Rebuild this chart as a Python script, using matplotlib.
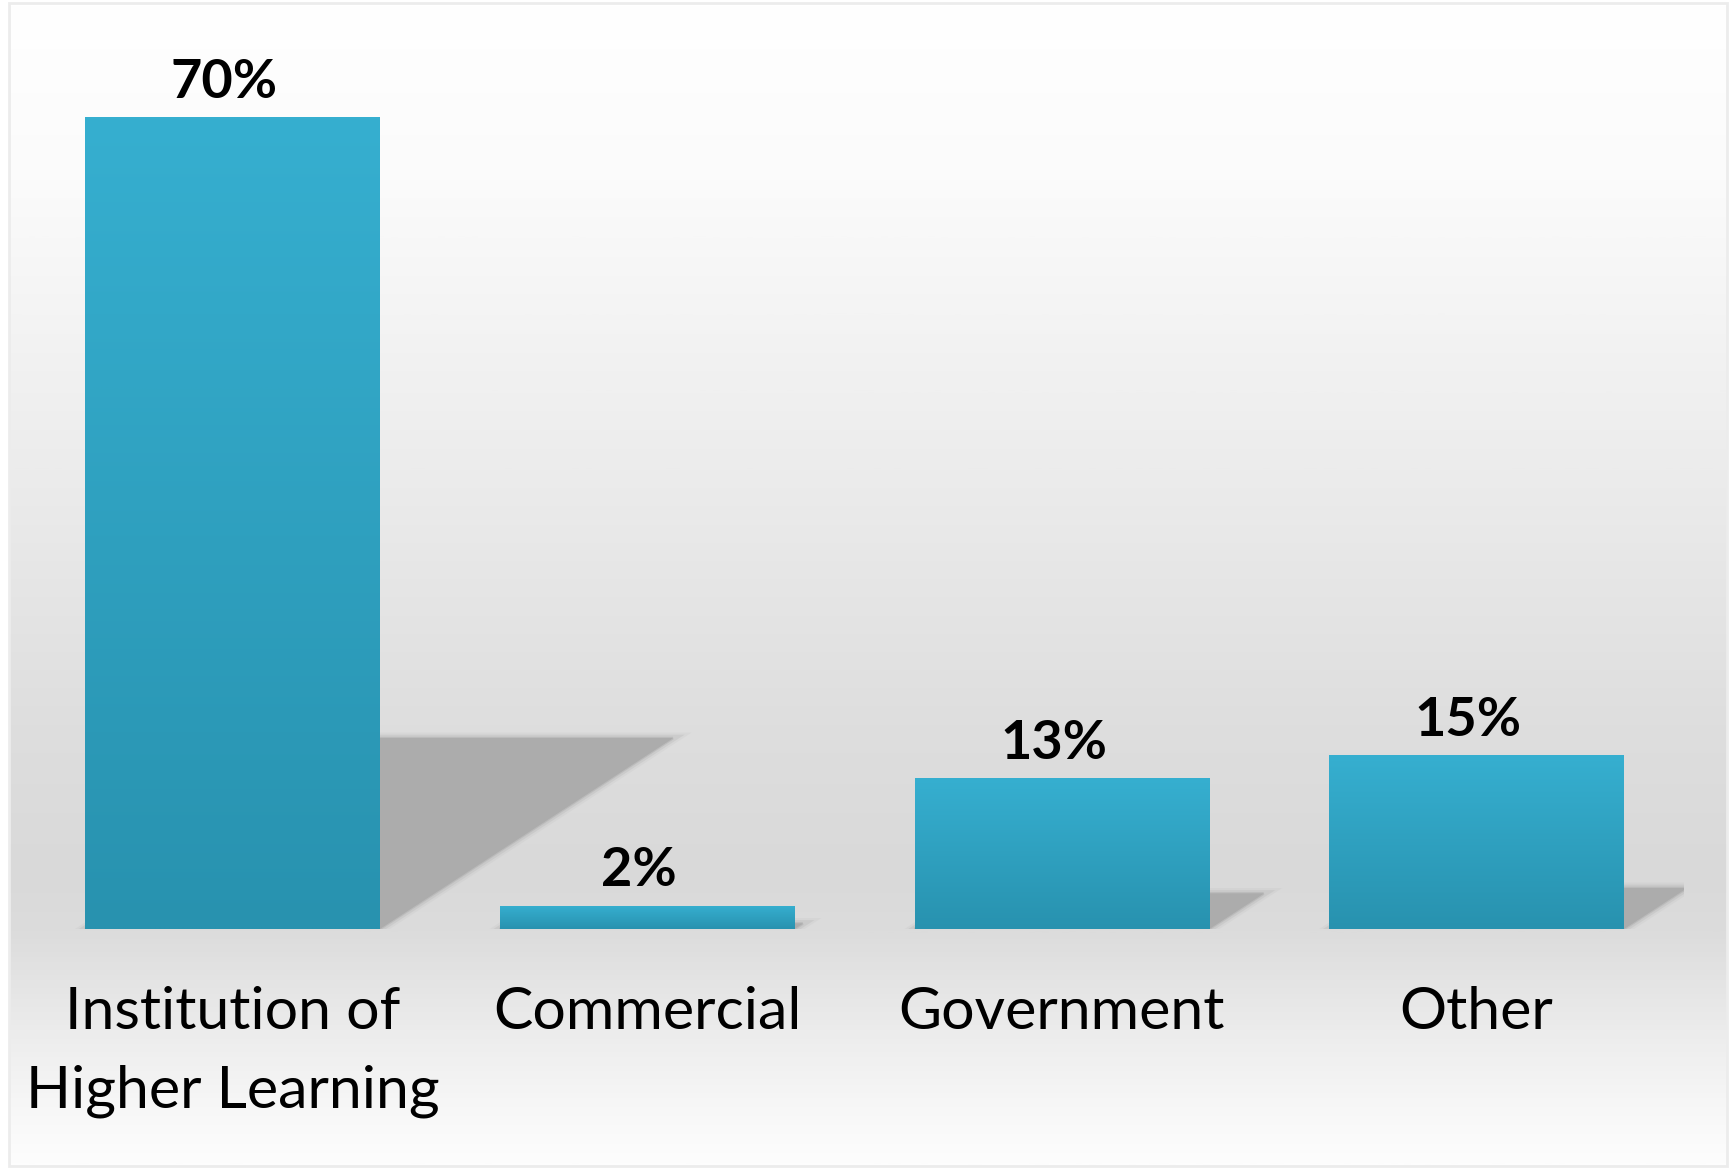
import numpy as np
import matplotlib
matplotlib.use('Agg')
import matplotlib.pyplot as plt
from matplotlib.colors import LinearSegmentedColormap
from matplotlib.patches import Polygon, Rectangle
import matplotlib.patheffects as pe

# Dados do gráfico
categories = ['Institution of\nHigher Learning', 'Commercial', 'Government', 'Other']
values = [70, 2, 13, 15]
value_labels = ['70%', '2%', '13%', '15%']

plt.rcParams['font.family'] = ['Lato', 'DejaVu Sans']

W, H = 1732, 1169
fig = plt.figure(figsize=(W / 100, H / 100), dpi=100)
fig.patch.set_facecolor('white')

# fundo com gradiente vertical
bg = fig.add_axes([9 / W, 3 / H, 1718 / W, 1163 / H], zorder=-5)
stops = [(0.0, '#ffffff'), (0.15, '#fbfbfb'), (0.40, '#ececec'), (0.62, '#dedede'),
         (0.75, '#d9d9d9'), (0.80, '#dcdcdc'), (0.88, '#ebebeb'), (0.95, '#f7f7f7'),
         (1.0, '#fdfdfd')]
bg_cmap = LinearSegmentedColormap.from_list('bg', stops)
grad = np.linspace(0, 1, 512).reshape(-1, 1)
bg.imshow(grad, cmap=bg_cmap, aspect='auto', extent=(0, 1, 1, 0))
bg.set_xlim(0, 1)
bg.set_ylim(1, 0)
bg.axis('off')
fig.patches.append(Rectangle((9 / W, 3 / H), 1718 / W, 1163 / H, transform=fig.transFigure,
                             fill=False, edgecolor='#ececec', lw=2))

ax = fig.add_axes([25 / W, (H - 929) / H, 1659 / W, 928 / H])
ax.set_facecolor('none')

x = np.arange(len(categories))
width = 0.71
bar_cmap = LinearSegmentedColormap.from_list('bar', ['#2892af', '#36afd0'])

bars = ax.bar(x, values, width=width, color='none', edgecolor='none', zorder=3)
for rect, v in zip(bars, values):
    x0, x1 = rect.get_x(), rect.get_x() + rect.get_width()
    # sombra em perspectiva (bordas suavizadas)
    dx = 0.0101 * v
    dy = 0.235 * v
    shadow = Polygon([(x0, 0), (x0 + dx, dy), (x1 + dx, dy), (x1, 0)], closed=True,
                     facecolor='#acacac', edgecolor='none', zorder=1)
    shadow.set_path_effects([
        pe.Stroke(linewidth=8, foreground='#acacac', alpha=0.12),
        pe.Stroke(linewidth=5, foreground='#acacac', alpha=0.25),
        pe.Stroke(linewidth=2, foreground='#acacac', alpha=0.5),
        pe.Normal()])
    ax.add_patch(shadow)
    # barra com gradiente
    img = ax.imshow(grad[::-1], cmap=bar_cmap, aspect='auto', extent=(x0, x1, 0, v),
                    zorder=3, interpolation='bilinear')
    img.set_clip_path(rect)

ax.set_xlim(-0.5, 3.5)
ax.set_ylim(0, 80)

for xi, v, lab in zip(x, values, value_labels):
    ax.annotate(lab, (xi, v), xytext=(-6, 14), textcoords='offset points',
                ha='center', va='baseline', fontsize=39, fontweight='bold', color='black')

ax.set_xticks(x)
ax.set_xticklabels(categories, fontsize=42.5, color='black', linespacing=1.6)
ax.tick_params(axis='x', length=0, pad=41)
ax.set_yticks([])
for s in ax.spines.values():
    s.set_visible(False)

fig.savefig('out.png', dpi=100)
